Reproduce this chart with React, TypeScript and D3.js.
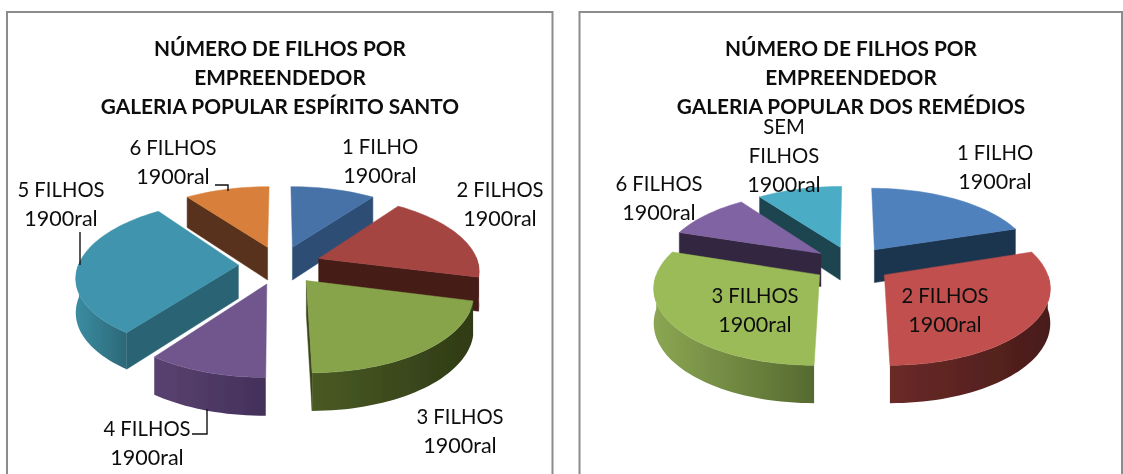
import React from "react";
import * as d3 from "d3";

const leftTitle = ["NÚMERO DE FILHOS POR", "EMPREENDEDOR", "GALERIA POPULAR ESPÍRITO SANTO"];
const rightTitle = ["NÚMERO DE FILHOS POR", "EMPREENDEDOR", "GALERIA POPULAR DOS REMÉDIOS"];

const leftCategories = ["1 FILHO", "2 FILHOS", "3 FILHOS", "4 FILHOS", "5 FILHOS", "6 FILHOS"];
const leftValues = [10, 19, 20.9, 10.1, 30, 10];
const rightCategories = ["1 FILHO", "2 FILHOS", "3 FILHOS", "6 FILHOS", "SEM FILHOS"];
const rightValues = [20, 30, 30, 10, 10];
const valueLabel = "1900ral";

const leftTop = ["#4672A8", "#A54442", "#87A44C", "#6F568C", "#3F94AD", "#D8803A"];
const leftSide = ["#2D4E74", "#451A17", "#3A451A", "#43305A", "#2A6473", "#59331A"];
const leftWallFrom = ["#2D4E74", "#451A17", "#2F3B16", "#43305A", "#2C6878", "#59331A"];
const leftWallTo = ["#2D4E74", "#451A17", "#4A5A24", "#5A4270", "#3A8A9F", "#59331A"];

const rightTop = ["#4F81BD", "#C0504D", "#9BBB59", "#8064A2", "#4BACC6"];
const rightSide = ["#1F344F", "#4F1D1B", "#566A30", "#33263F", "#1E4450"];
const rightWallFrom = ["#1F344F", "#4A1C1A", "#566A30", "#33263F", "#1E4450"];
const rightWallTo = ["#1F344F", "#6A2A28", "#8AA552", "#33263F", "#1E4450"];

const leftLabelPos = [[380, 147], [500, 190], [460, 417], [147, 429], [61, 190], [173, 148]];
const rightLabelPos = [[995, 153], [945, 296], [755, 296], [659, 184], [784, 127]];

const leftLeaders = [
  [[215, 185], [228, 185], [228, 191]],
  [[80, 232], [80, 265]],
  [[192, 434], [207, 434], [207, 409]],
];

const FONT = "Lato, 'Open Sans', sans-serif";
const line = d3.line();
const TAU = Math.PI * 2;

function Pie3D({ id, values, cx, cy, R, Rt, depth, explode, top, side, wallFrom, wallTo }: any) {
  const D = 7;
  const arcs = d3.pie<number>().sort(null).startAngle(0).endAngle(TAU)(values);
  const xs = d3.scaleLinear().domain([-1, 1]).range([cx - R, cx + R]);
  const ys = d3.scaleLinear().domain([-1, 1]).range([cy + Rt, cy - Rt]);
  const project = (u: number, v: number, z: number): [number, number] => {
    const f = D / (D + v);
    return [xs(u * f), ys(v * f) + z * depth * Math.pow(f, 0.7)];
  };
  const order = arcs
    .map((a, i) => ({ a, i, mid: (a.startAngle + a.endAngle) / 2 }))
    .sort((p, q) => Math.cos(q.mid) - Math.cos(p.mid));

  return (
    <g>
      {order.map(({ a, i, mid }) => {
        const ou = explode * Math.sin(mid);
        const ov = explode * Math.cos(mid);
        const pt = (ang: number, z: number) => project(ou + Math.sin(ang), ov + Math.cos(ang), z);
        const apex = (z: number) => project(ou, ov, z);
        const steps = Math.max(8, Math.ceil((a.endAngle - a.startAngle) / (TAU / 180)));
        const angs = d3.range(steps + 1).map((k) => a.startAngle + ((a.endAngle - a.startAngle) * k) / steps);
        const topPts = [apex(0), ...angs.map((g) => pt(g, 0))];
        const front = angs.filter((g) => Math.cos(g) < 0.03);
        const faces: any[] = [];
        if (Math.sin(a.startAngle) < -0.001) {
          faces.push([apex(0), pt(a.startAngle, 0), pt(a.startAngle, 1), apex(1)]);
        }
        if (Math.sin(a.endAngle) > 0.001) {
          faces.push([apex(0), pt(a.endAngle, 0), pt(a.endAngle, 1), apex(1)]);
        }
        const wall = front.length > 1
          ? [...front.map((g) => pt(g, 0)), ...front.slice().reverse().map((g) => pt(g, 1))]
          : null;
        const gid = `${id}-wall-${i}`;
        return (
          <g key={i}>
            {faces.map((f, k) => (
              <path key={k} d={line(f) + "Z"} fill={side[i]} stroke={side[i]} strokeWidth={0.5} />
            ))}
            {wall && (
              <>
                <linearGradient id={gid} gradientUnits="userSpaceOnUse"
                  x1={pt(front[0], 0)[0]} y1={0} x2={pt(front[front.length - 1], 0)[0]} y2={0}>
                  <stop offset="0" stopColor={wallFrom[i]} />
                  <stop offset="1" stopColor={wallTo[i]} />
                </linearGradient>
                <path d={line(wall) + "Z"} fill={`url(#${gid})`} />
              </>
            )}
            <path d={line(topPts) + "Z"} fill={top[i]} stroke={top[i]} strokeWidth={0.5} />
          </g>
        );
      })}
    </g>
  );
}

function Label({ x, y, lines }: any) {
  return (
    <text x={x} fontFamily={FONT} fill="#111" textAnchor="middle">
      {lines.map((l: string, i: number) => (
        <tspan key={i} x={x} y={y + 7 + i * 29} fontSize={l === valueLabel ? 21.5 : 20.3}>{l}</tspan>
      ))}
    </text>
  );
}

function Title({ x, lines }: any) {
  return (
    <text fontFamily={FONT} fontSize={20.8} fontWeight={700} fill="#111" textAnchor="middle">
      {lines.map((l: string, i: number) => (
        <tspan key={i} x={x} y={56 + i * 29}>{l}</tspan>
      ))}
    </text>
  );
}

function labelLines(cat: string) {
  return cat === "SEM FILHOS" ? ["SEM", "FILHOS", valueLabel] : [cat, valueLabel];
}

export default function App() {
  return (
    <svg width={1123} height={474} style={{ position: "absolute", left: 0, top: 0, display: "block", background: "#fff" }}>
      <defs>
        <filter id="soft" x="-2%" y="-2%" width="104%" height="104%">
          <feGaussianBlur stdDeviation={0.45} />
        </filter>
      </defs>
      <g filter="url(#soft)">
        <path d="M7,474V12H552.5V474" fill="none" stroke="#8C8C8C" strokeWidth={2} />
        <path d="M579.5,474V12H1122V474" fill="none" stroke="#8C8C8C" strokeWidth={2} />
        <Pie3D id="l" values={leftValues} cx={280} cy={265} R={160} Rt={74} depth={33.5} explode={0.26}
          top={leftTop} side={leftSide} wallFrom={leftWallFrom} wallTo={leftWallTo} />
        <Pie3D id="r" values={rightValues} cx={852} cy={264} R={160} Rt={74} depth={33.5} explode={0.245}
          top={rightTop} side={rightSide} wallFrom={rightWallFrom} wallTo={rightWallTo} />
        {leftLeaders.map((pts, i) => (
          <path key={i} d={line(pts as any) as string} fill="none" stroke="#111" strokeWidth={1.4} />
        ))}
        <Title x={280} lines={leftTitle} />
        <Title x={851} lines={rightTitle} />
        {leftCategories.map((c, i) => (
          <Label key={c} x={leftLabelPos[i][0]} y={leftLabelPos[i][1]} lines={labelLines(c)} />
        ))}
        {rightCategories.map((c, i) => (
          <Label key={c} x={rightLabelPos[i][0]} y={rightLabelPos[i][1]} lines={labelLines(c)} />
        ))}
      </g>
    </svg>
  );
}
